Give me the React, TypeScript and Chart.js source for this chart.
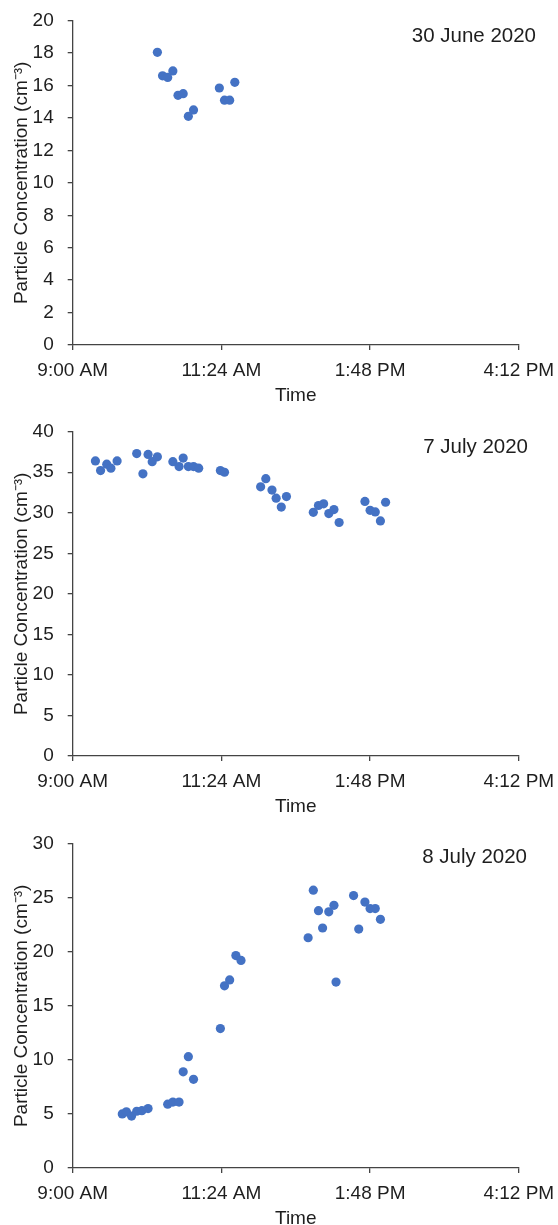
import { useEffect, useRef } from "react";
import { Chart, registerables } from "chart.js";

Chart.register(...registerables);

// x values are minutes after midnight
const xTickValues = [540, 684, 828, 972];

const june30Times = [622, 627, 632, 637, 642, 647, 652, 657, 682, 687, 692, 697];
const june30Values = [18.05, 16.6, 16.5, 16.9, 15.4, 15.5, 14.1, 14.5, 15.85, 15.1, 15.1, 16.2];

const july7Times = [
  562, 567, 573, 577, 583, 602, 608, 613, 617, 622, 637, 643, 647, 652, 657, 662, 683, 687,
  722, 727, 733, 737, 742, 747, 773, 778, 783, 788, 793, 798, 823, 828, 833, 838, 843,
];
const july7Values = [
  36.4, 35.2, 36.0, 35.5, 36.4, 37.3, 34.8, 37.2, 36.3, 36.9, 36.3, 35.7, 36.75, 35.7, 35.7, 35.5,
  35.2, 35.0, 33.2, 34.2, 32.8, 31.8, 30.7, 32.0, 30.05, 30.9, 31.1, 29.9, 30.4, 28.8, 31.4, 30.3,
  30.1, 29.0, 31.3,
];

const july8Times = [
  588, 592, 597, 602, 607, 613, 632, 637, 643, 647, 652, 657, 683, 687, 692, 698, 703, 768, 773,
  778, 782, 788, 793, 795, 812, 817, 823, 828, 833, 838,
];
const july8Values = [
  5.0, 5.2, 4.8, 5.25, 5.3, 5.5, 5.9, 6.1, 6.1, 8.9, 10.3, 8.2, 12.9, 16.85, 17.4, 19.65, 19.2,
  21.3, 25.7, 23.8, 22.2, 23.7, 24.3, 17.2, 25.2, 22.1, 24.6, 24.0, 24.0, 23.0,
];

const FONT = '"Liberation Sans", Arial, sans-serif';
const TEXT = "#1e1e1e";
const AXIS = "#444444";
const DOT = "#4472C4";

function fmtTime(m: number): string {
  const h = Math.floor(m / 60);
  const mm = Math.round(m % 60);
  const ap = h >= 12 ? "PM" : "AM";
  const h12 = ((h + 11) % 12) + 1;
  return `${h12}:${String(mm).padStart(2, "0")} ${ap}`;
}

type PanelProps = {
  times: number[];
  values: number[];
  yMax: number;
  yStep: number;
  dateLabel: string;
  labelRight: number;
  labelBaseline: number;
};

function Panel({ times, values, yMax, yStep, dateLabel, labelRight, labelBaseline }: PanelProps) {
  const ref = useRef<HTMLCanvasElement | null>(null);
  useEffect(() => {
    if (!ref.current) return;
    const datePlugin = {
      id: "dateLabel",
      afterDraw(chart: any) {
        const ctx = chart.ctx;
        ctx.save();
        ctx.font = `20.5px ${FONT}`;
        ctx.fillStyle = TEXT;
        ctx.textAlign = "right";
        ctx.textBaseline = "alphabetic";
        ctx.fillText(dateLabel, labelRight, labelBaseline);
        ctx.restore();
      },
    };
    const chart = new Chart(ref.current, {
      type: "scatter",
      data: {
        datasets: [
          {
            data: times.map((t, i) => ({ x: t, y: values[i] })),
            backgroundColor: DOT,
            borderColor: DOT,
            borderWidth: 0,
            pointRadius: 4.6,
            pointHoverRadius: 4.6,
          },
        ],
      },
      options: {
        animation: false,
        responsive: true,
        maintainAspectRatio: false,
        layout: { padding: { left: 0, top: 20.7, right: 39.2, bottom: 0 } },
        plugins: { legend: { display: false }, tooltip: { enabled: false } },
        scales: {
          x: {
            type: "linear",
            min: 540,
            max: 972,
            afterBuildTicks: (s: any) => {
              s.ticks = xTickValues.map((v) => ({ value: v }));
            },
            afterFit: (s: any) => {
              s.height = 66;
              s.paddingLeft = 0;
              s.paddingRight = 0;
            },
            ticks: {
              color: TEXT,
              font: { family: FONT, size: 19 },
              padding: 9,
              maxRotation: 0,
              autoSkip: false,
              callback: (v: any) => fmtTime(Number(v)),
            },
            grid: {
              display: true,
              drawOnChartArea: false,
              drawTicks: true,
              tickLength: 5,
              color: AXIS,
              lineWidth: 1.3,
            },
            border: { display: true, color: AXIS, width: 1.3 },
            title: {
              display: true,
              text: "Time",
              color: TEXT,
              font: { family: FONT, size: 19 },
              padding: { top: 0, bottom: 3.5 },
            },
          },
          y: {
            min: 0,
            max: yMax,
            afterFit: (s: any) => {
              s.width = 72.7;
              s.paddingTop = 0;
              s.paddingBottom = 0;
            },
            ticks: {
              stepSize: yStep,
              color: TEXT,
              font: { family: FONT, size: 19 },
              padding: 14,
            },
            grid: {
              display: true,
              drawOnChartArea: false,
              drawTicks: true,
              tickLength: 5,
              color: AXIS,
              lineWidth: 1.3,
            },
            border: { display: true, color: AXIS, width: 1.3 },
            title: {
              display: true,
              text: "Particle Concentration (cm⁻³)",
              color: TEXT,
              font: { family: FONT, size: 19 },
              padding: { top: 10.5, bottom: 0 },
            },
          },
        },
      },
      plugins: [datePlugin],
    });
    return () => chart.destroy();
  }, [times, values, yMax, yStep, dateLabel, labelRight, labelBaseline]);
  return <canvas ref={ref} />;
}

export default function App() {
  const panelStyle = (top: number): React.CSSProperties => ({
    position: "absolute",
    left: 0,
    top,
    width: 558,
    height: 411,
  });
  return (
    <div
      style={{
        position: "absolute",
        left: 0,
        top: 0,
        width: 558,
        height: 1225,
        overflow: "hidden",
        background: "#ffffff",
      }}
    >
      <div style={panelStyle(0)}>
        <Panel
          times={june30Times}
          values={june30Values}
          yMax={20}
          yStep={2}
          dateLabel="30 June 2020"
          labelRight={536}
          labelBaseline={42}
        />
      </div>
      <div style={panelStyle(411)}>
        <Panel
          times={july7Times}
          values={july7Values}
          yMax={40}
          yStep={5}
          dateLabel="7 July 2020"
          labelRight={528}
          labelBaseline={42}
        />
      </div>
      <div style={panelStyle(823)}>
        <Panel
          times={july8Times}
          values={july8Values}
          yMax={30}
          yStep={5}
          dateLabel="8 July 2020"
          labelRight={527}
          labelBaseline={40}
        />
      </div>
    </div>
  );
}
